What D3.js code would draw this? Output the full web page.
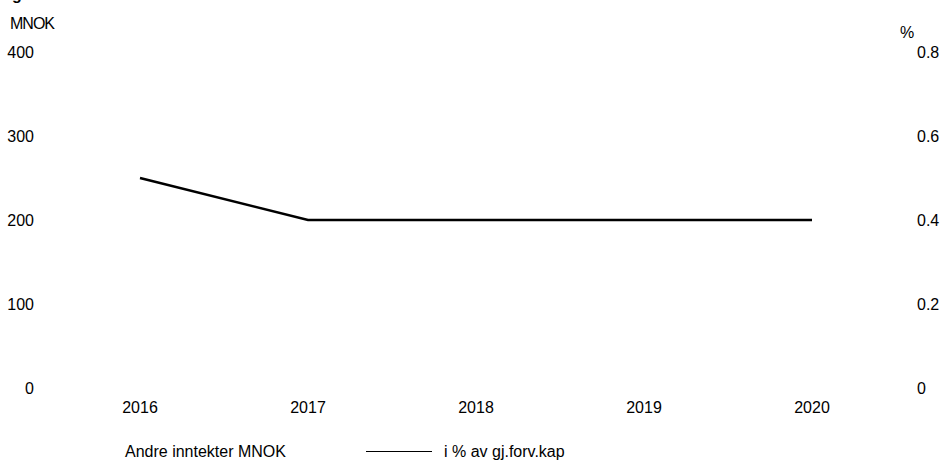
<!DOCTYPE html>
<html>
<head>
<meta charset="utf-8">
<script src="https://cdn.jsdelivr.net/npm/d3@7"></script>
<style>
  body { margin: 0; background: #fff; }
  text { font-family: "Liberation Sans", Arial, sans-serif; font-size: 16px; fill: #000; }
</style>
</head>
<body>
<svg id="chart"></svg>
<script>
// chart data
const years = ["2016", "2017", "2018", "2019", "2020"];
const andreInntekter = [0, 0, 0, 0, 0];        // MNOK bars (not visible)
const prosentAvKap = [0.5, 0.4, 0.4, 0.4, 0.4]; // line on right axis
const leftTicks = [0, 100, 200, 300, 400];
const rightTicks = [0, 0.2, 0.4, 0.6, 0.8];

const width = 945, height = 462;
const plot = {top: 52, bottom: 388, left: 56, right: 896};

const svg = d3.select("#chart")
    .attr("width", width)
    .attr("height", height);

const x = d3.scaleBand()
    .domain(years)
    .range([plot.left, plot.right]);

const yLeft = d3.scaleLinear().domain([0, 400]).range([plot.bottom, plot.top]);
const yRight = d3.scaleLinear().domain([0, 0.8]).range([plot.bottom, plot.top]);

// cut-off title remnant at the top edge
svg.append("text").attr("x", 12).attr("y", 0).style("font-weight", "bold").text("g");

// axis titles
svg.append("text").attr("x", 10).attr("y", 29).style("letter-spacing", "-1px").text("MNOK");
svg.append("text").attr("x", 900).attr("y", 38).text("%");

// left axis labels
svg.append("g").selectAll("text")
  .data(leftTicks)
  .join("text")
  .attr("x", 34)
  .attr("y", d => yLeft(d))
  .attr("dy", "0.35em")
  .attr("text-anchor", "end")
  .text(d => d);

// right axis labels
svg.append("g").selectAll("text")
  .data(rightTicks)
  .join("text")
  .attr("x", 917)
  .attr("y", d => yRight(d))
  .attr("dy", "0.35em")
  .text(d => d);

// x labels
svg.append("g").selectAll("text")
  .data(years)
  .join("text")
  .attr("x", d => x(d) + x.bandwidth() / 2)
  .attr("y", 413)
  .attr("text-anchor", "middle")
  .text(d => d);

// bars (zero values)
svg.append("g").selectAll("rect")
  .data(andreInntekter)
  .join("rect")
  .attr("x", (d, i) => x(years[i]) + x.bandwidth() * 0.25)
  .attr("y", d => yLeft(d))
  .attr("width", x.bandwidth() * 0.5)
  .attr("height", d => yLeft(0) - yLeft(d))
  .attr("fill", "#fff");

// line
const line = d3.line()
  .x((d, i) => x(years[i]) + x.bandwidth() / 2)
  .y(d => yRight(d));

svg.append("path")
  .datum(prosentAvKap)
  .attr("fill", "none")
  .attr("stroke", "#000")
  .attr("stroke-width", 2.5)
  .attr("d", line);

// legend
svg.append("text").attr("x", 125).attr("y", 457).text("Andre inntekter MNOK");
svg.append("line")
  .attr("x1", 366).attr("x2", 432)
  .attr("y1", 451.5).attr("y2", 451.5)
  .attr("stroke", "#000").attr("stroke-width", 1);
svg.append("text").attr("x", 444).attr("y", 457).text("i % av gj.forv.kap");
</script>
</body>
</html>
